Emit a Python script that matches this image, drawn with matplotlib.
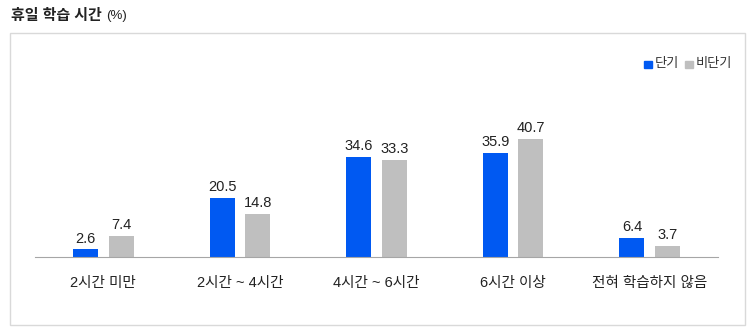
import numpy as np
import matplotlib.pyplot as plt
from matplotlib.patches import Rectangle

plt.rcParams['font.family'] = ['Liberation Sans', 'Noto Sans CJK KR', 'DejaVu Sans']

categories = ['2시간 미만', '2시간 ~ 4시간', '4시간 ~ 6시간', '6시간 이상', '전혀 학습하지 않음']
short_term = [2.6, 20.5, 34.6, 35.9, 6.4]
non_short = [7.4, 14.8, 33.3, 40.7, 3.7]
series_names = ['단기', '비단기']
colors = ['#0059F2', '#BFBFBF']

W, H = 747, 327
fig = plt.figure(figsize=(W / 100, H / 100), dpi=100)

# outer frame
fig.patches.append(Rectangle((10 / W, 2 / H), 735 / W, (327 - 33 - 2) / H,
                             transform=fig.transFigure, fill=False,
                             edgecolor='#D9D9D9', linewidth=1))

# title
fig.text(11 / W, 1 - 16 / H, '휴일 학습 시간', fontsize=10.8, fontweight='bold',
         va='center', ha='left', color='#222222')
fig.text(106 / W, 1 - 16.5 / H, '(%)', fontsize=9.5, va='center', ha='left',
         color='#222222')

base_y = 257
px_per_unit = 2.9
ymax = 60
top_y = base_y - ymax * px_per_unit
ax = fig.add_axes([35 / W, 1 - base_y / H, (718 - 35) / W, (base_y - top_y) / H])

x = np.arange(len(categories))
width = 0.183
off = 0.13
for vals, sign, col in [(short_term, -1, colors[0]), (non_short, 1, colors[1])]:
    bars = ax.bar(x + sign * off, vals, width=width, color=col)
    for b, v in zip(bars, vals):
        ax.annotate(f'{v}', (b.get_x() + b.get_width() / 2, v),
                    xytext=(0, 5), textcoords='offset points',
                    ha='center', va='baseline', fontsize=10.5, color='#222222')

ax.set_xlim(-0.5, len(categories) - 0.5)
ax.set_ylim(0, ymax)
for s in ['top', 'right', 'left']:
    ax.spines[s].set_visible(False)
ax.spines['bottom'].set_color('#A6A6A6')
ax.set_yticks([])
ax.set_xticks(x)
ax.set_xticklabels(categories, fontsize=10.5, color='#222222')
ax.tick_params(axis='x', length=0, pad=14)

# legend
lx = [644, 685]
for px, name, col in zip(lx, series_names, colors):
    fig.patches.append(Rectangle((px / W, 1 - 68 / H), 7.5 / W, 7.5 / H,
                                 transform=fig.transFigure, color=col))
    fig.text((px + 11) / W, 1 - 64.5 / H, name, fontsize=9.5, va='center',
             ha='left', color='#333333')

fig.savefig('out.png', dpi=100)
